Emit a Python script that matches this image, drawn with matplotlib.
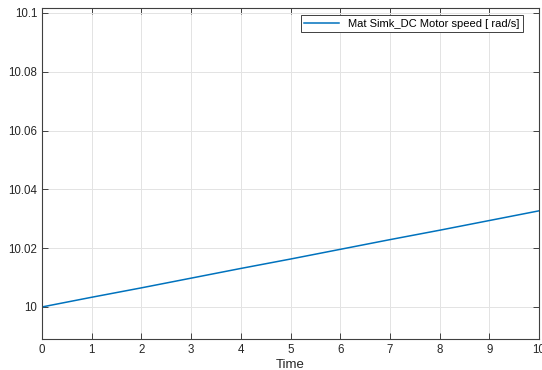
import matplotlib
matplotlib.use("Agg")
import matplotlib.pyplot as plt

time = [0, 1, 2, 3, 4, 5, 6, 7, 8, 9, 10]
speed = [10.0, 10.0033, 10.0065, 10.0098, 10.0131, 10.0163, 10.0196, 10.0229, 10.0261, 10.0294, 10.0327]
xticks = [0, 1, 2, 3, 4, 5, 6, 7, 8, 9, 10]
yticks = [10.0, 10.02, 10.04, 10.06, 10.08, 10.1]
ytick_labels = ["10", "10.02", "10.04", "10.06", "10.08", "10.1"]

plt.rcParams['font.family'] = ['Liberation Sans', 'DejaVu Sans']

fig = plt.figure(figsize=(5.42, 3.70), dpi=100)
ax = fig.add_axes([42/542, 1 - 339/370, (539-42)/542, (339-8)/370])

ax.plot(time, speed, color='#0072BD', linewidth=1.1, label='Mat Simk_DC Motor speed [ rad/s]')
ax.set_xlim(0, 10)
ax.set_ylim(9.9891, 10.1017)
ax.set_xticks(xticks)
ax.set_yticks(yticks)
ax.set_yticklabels(ytick_labels)
ax.grid(True, color='#e3e3e3', linewidth=0.7)
ax.set_axisbelow(True)
for s in ax.spines.values():
    s.set_color('#404040')
    s.set_linewidth(0.8)
ax.tick_params(direction='in', length=4, width=0.7, colors='#404040', labelcolor='#262626',
               labelsize=8.3, top=True, right=True)
ax.set_xlabel('Time', fontsize=9.5, color='#262626', labelpad=2)
leg = ax.legend(loc='upper right', fontsize=8, frameon=True, fancybox=False,
                edgecolor='#404040', framealpha=1, borderpad=0.3, handlelength=3.2,
                bbox_to_anchor=(0.979, 0.995))
leg.get_frame().set_linewidth(0.7)

fig.savefig('out.png', dpi=100)
